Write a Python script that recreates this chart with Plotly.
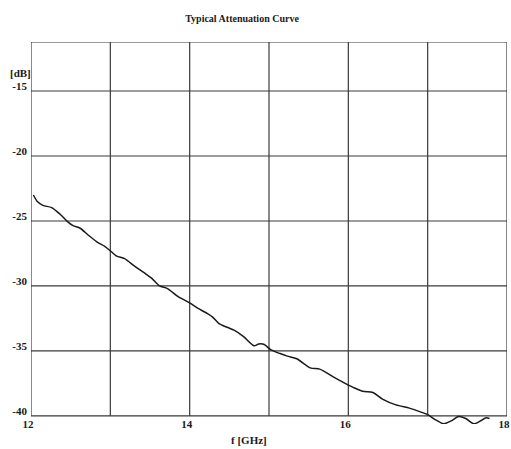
import plotly.graph_objects as go

# --- data ---
freq_ghz = [12.03, 12.08, 12.15, 12.26, 12.37, 12.46, 12.53, 12.62, 12.72, 12.83,
            12.93, 13.01, 13.08, 13.18, 13.31, 13.43, 13.52, 13.62, 13.72, 13.85,
            14.0, 14.1, 14.23, 14.29, 14.37, 14.48, 14.56, 14.68, 14.81, 14.87,
            14.94, 15.02, 15.14, 15.23, 15.35, 15.52, 15.64, 15.81, 15.93, 16.06,
            16.18, 16.31, 16.43, 16.6, 16.77, 16.89, 17.0, 17.1, 17.2, 17.29,
            17.39, 17.48, 17.58, 17.66, 17.73, 17.78]
atten_db = [-23.0, -23.5, -23.8, -23.97, -24.5, -25.05, -25.36, -25.56, -26.08, -26.6,
            -26.95, -27.35, -27.7, -27.9, -28.5, -29.0, -29.4, -30.0, -30.2, -30.8,
            -31.3, -31.7, -32.15, -32.4, -32.9, -33.2, -33.4, -33.9, -34.6, -34.46,
            -34.5, -34.9, -35.2, -35.4, -35.6, -36.3, -36.4, -37.0, -37.4, -37.8,
            -38.1, -38.2, -38.7, -39.15, -39.4, -39.65, -39.9, -40.3, -40.6, -40.4,
            -40.05, -40.2, -40.6, -40.4, -40.15, -40.2]

x_grid = [12, 13, 14, 15, 16, 17, 18]
x_ticks = [12, 14, 16, 18]
x_ticktext = ["12", "14", "16", "18"]
y_ticks = [-15, -20, -25, -30, -35, -40]
y_ticktext = ["-15", "-20", "-25", "-30", "-35", "-40"]

# --- styles ---
INK = '#1a1a1a'
GRID = '#3a3a3a'
FONT = dict(family="Liberation Serif, Times New Roman, serif", size=11, color=INK, weight='bold')

Y_TOP = -11.23
Y_BOTTOM = -40
Y_EXTRA = -40.62  # curve dips slightly under the frame

W, H = 511, 449
PLOT_H = 382
PLOT_W = 479
dom_bottom = 8 / PLOT_H   # where -40 sits inside the plot area

fig = go.Figure()

fig.add_trace(go.Scatter(
    x=freq_ghz, y=atten_db,
    mode='lines',
    line=dict(color=INK, width=1.5, shape='spline', smoothing=0.8),
    showlegend=False,
))

# grid / frame: vertical lines stop at the -40 line
for gx in x_grid:
    fig.add_shape(type='line', xref='x', yref='y', x0=gx, x1=gx, y0=Y_BOTTOM, y1=Y_TOP,
                  line=dict(color=GRID, width=1.2), layer='below')
for gy in y_ticks + [Y_TOP]:
    fig.add_shape(type='line', xref='x', yref='y', x0=12, x1=18, y0=gy, y1=gy,
                  line=dict(color=GRID, width=1.2), layer='below')

fig.update_layout(
    width=W, height=H,
    margin=dict(l=31, r=1, t=42, b=H - 42 - PLOT_H),
    plot_bgcolor='white', paper_bgcolor='white',
    font=FONT,
    title=dict(text="Typical Attenuation Curve", x=242 / W, xref='container', xanchor='center',
               y=1 - 18 / H, yref='container', yanchor='middle',
               font=dict(family=FONT['family'], size=10, color=INK, weight='bold')),
    xaxis=dict(range=[12, 18], anchor='free', position=dom_bottom, showgrid=False,
               zeroline=False, showline=False,
               tickmode='array', tickvals=x_ticks, ticktext=x_ticktext, ticks='',
               ticklabelshift=-3, ticklabeloverflow='allow', tickfont=FONT),
    yaxis=dict(range=[Y_EXTRA, Y_TOP], showgrid=False, zeroline=False, showline=False,
               tickmode='array', tickvals=y_ticks, ticktext=y_ticktext, ticks='',
               ticklabelshift=-5, ticklabelstandoff=3, tickfont=FONT),
    annotations=[
        dict(text="[dB]", xref='paper', yref='y', x=-23 / PLOT_W, y=-13.6, xanchor='left',
             showarrow=False, font=FONT),
        dict(text="f [GHz]", xref='paper', yref='paper', x=(250 - 31) / PLOT_W, y=-16 / PLOT_H,
             yanchor='middle', xanchor='center', showarrow=False, font=FONT),
    ],
)

# drop the default 8px body margin so the figure sits flush in the window
fig.write_html("out.html", config={'displayModeBar': False},
               post_script="document.body.style.margin='0';")
